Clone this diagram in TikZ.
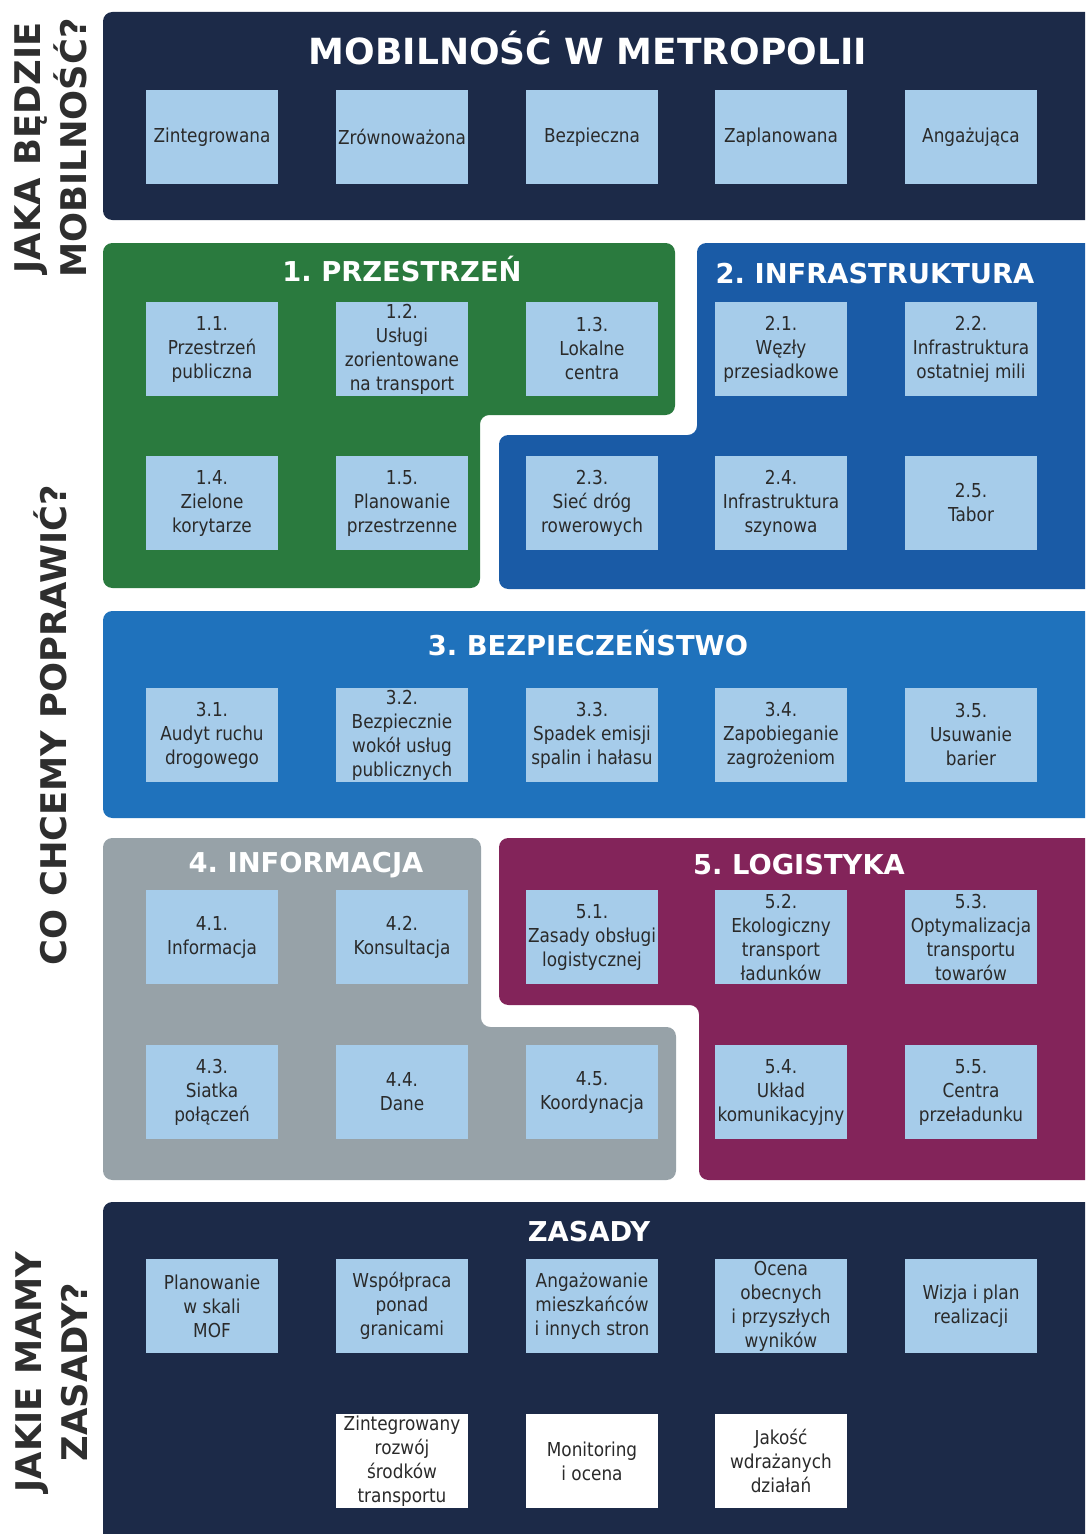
\documentclass[tikz,border=0pt]{standalone}
\usepackage{fontspec}
\setmainfont{DejaVu Sans}[FakeStretch=0.88]
\newfontfamily\headfont{DejaVu Sans}
\frenchspacing

\definecolor{mobnavy}{HTML}{1C2A48}
\definecolor{przgreen}{HTML}{2A7A3E}
\definecolor{infblue}{HTML}{1A5BA6}
\definecolor{bezblue}{HTML}{1F72BC}
\definecolor{infgrey}{HTML}{97A2A8}
\definecolor{logpurple}{HTML}{83245A}
\definecolor{tileblue}{HTML}{A6CCEA}
\definecolor{tiletext}{HTML}{2A2A2A}
\definecolor{sidetext}{HTML}{2E2E2E}

\tikzset{
  tile/.style={fill=tileblue, text=tiletext, minimum width=99.5pt, minimum height=70pt,
    inner sep=1pt, align=center, font=\fontsize{14.4}{18}\selectfont},
  whitetile/.style={tile, fill=white},
  head/.style={anchor=mid, text=white, font=\headfont\bfseries\fontsize{20.5}{24}\selectfont},
  bighead/.style={head, font=\headfont\bfseries\fontsize{27}{32}\selectfont},
  sidelabel/.style={rotate=90, align=center, text=sidetext,
    font=\headfont\bfseries\fontsize{26.5}{35}\selectfont},
  panel/.style={rounded corners=7pt}
}

\begin{document}
\begin{tikzpicture}[x=0.75pt, y=-0.75pt]

    % Page
    \clip (0,0) rectangle (1085,1534);
    \fill[white] (0,0) rectangle (1085,1534);

    % Panels
    \fill[mobnavy, panel] (103,12) rectangle (1100,220);
    \fill[przgreen, panel] (103,243) -- (675,243) -- (675,415) -- (480,415) -- (480,588) -- (103,588) -- cycle;
    \fill[infblue, panel] (697,243) -- (1100,243) -- (1100,589) -- (499,589) -- (499,435) -- (697,435) -- cycle;
    \fill[bezblue, panel] (103,611) rectangle (1100,818);
    \fill[infgrey, panel] (103,838) -- (481,838) -- (481,1027) -- (676,1027) -- (676,1180) -- (103,1180) -- cycle;
    \fill[logpurple, panel] (499,838) -- (1100,838) -- (1100,1180) -- (699,1180) -- (699,1005) -- (499,1005) -- cycle;
    \fill[mobnavy, panel] (103,1202) rectangle (1100,1550);

    % Side questions
    \node[sidelabel] (q1) at (51,148) {JAKA BĘDZIE\\MOBILNOŚĆ?};
    \node[sidelabel] (q2) at (50,725) {CO CHCEMY POPRAWIĆ?};
    \node[sidelabel] (q3) at (52,1372) {JAKIE MAMY\\ZASADY?};

    % Titles
    \node[bighead] (tm) at (588,61) {MOBILNOŚĆ W METROPOLII};
    \node[head] (t1) at (402,278) {1. PRZESTRZEŃ};
    \node[head] (t2) at (875,280) {2. INFRASTRUKTURA};
    \node[head] (t3) at (588,652) {3. BEZPIECZEŃSTWO};
    \node[head] (t4) at (306,869) {4. INFORMACJA};
    \node[head] (t5) at (799,871) {5. LOGISTYKA};
    \node[head] (tz) at (589,1238) {ZASADY};

    % Mobility
    \foreach \n/\x/\t in {m1/212/Zintegrowana, m2/402/Zrównoważona, m3/592/Bezpieczna,
                          m4/781/Zaplanowana, m5/971/Angażująca} {
        \node[tile] (\n) at (\x,137) {\t};
    }

    % 1. and 2.
    \foreach \n/\x/\t in {p11/212/{1.1.\\Przestrzeń\\publiczna},
                          p12/402/{1.2.\\Usługi\\zorientowane\\na transport},
                          p13/592/{1.3.\\Lokalne\\centra},
                          p21/781/{2.1.\\Węzły\\przesiadkowe},
                          p22/971/{2.2.\\Infrastruktura\\ostatniej mili}} {
        \node[tile] (\n) at (\x,349) {\t};
    }
    \foreach \n/\x/\t in {p14/212/{1.4.\\Zielone\\korytarze},
                          p15/402/{1.5.\\Planowanie\\przestrzenne},
                          p23/592/{2.3.\\Sieć dróg\\rowerowych},
                          p24/781/{2.4.\\Infrastruktura\\szynowa},
                          p25/971/{2.5.\\Tabor}} {
        \node[tile] (\n) at (\x,503) {\t};
    }

    % 3.
    \foreach \n/\x/\t in {b31/212/{3.1.\\Audyt ruchu\\drogowego},
                          b32/402/{3.2.\\Bezpiecznie\\wokół usług\\publicznych},
                          b33/592/{3.3.\\Spadek emisji\\spalin i hałasu},
                          b34/781/{3.4.\\Zapobieganie\\zagrożeniom},
                          b35/971/{3.5.\\Usuwanie\\barier}} {
        \node[tile] (\n) at (\x,735) {\t};
    }

    % 4. and 5.
    \foreach \n/\x/\t in {i41/212/{4.1.\\Informacja},
                          i42/402/{4.2.\\Konsultacja},
                          l51/592/{5.1.\\Zasady obsługi\\logistycznej},
                          l52/781/{5.2.\\Ekologiczny\\transport\\ładunków},
                          l53/971/{5.3.\\Optymalizacja\\transportu\\towarów}} {
        \node[tile] (\n) at (\x,937) {\t};
    }
    \foreach \n/\x/\t in {i43/212/{4.3.\\Siatka\\połączeń},
                          i44/402/{4.4.\\Dane},
                          i45/592/{4.5.\\Koordynacja},
                          l54/781/{5.4.\\Układ\\komunikacyjny},
                          l55/971/{5.5.\\Centra\\przeładunku}} {
        \node[tile] (\n) at (\x,1092) {\t};
    }

    % Zasady
    \foreach \n/\x/\t in {z1/212/{Planowanie\\w skali\\MOF},
                          z2/402/{Współpraca\\ponad\\granicami},
                          z3/592/{Angażowanie\\mieszkańców\\i innych stron},
                          z4/781/{Ocena\\obecnych\\i przyszłych\\wyników},
                          z5/971/{Wizja i plan\\realizacji}} {
        \node[tile] (\n) at (\x,1306) {\t};
    }
    \foreach \n/\x/\t in {z6/402/{Zintegrowany\\rozwój\\środków\\transportu},
                          z7/592/{Monitoring\\i ocena},
                          z8/781/{Jakość\\wdrażanych\\działań}} {
        \node[whitetile] (\n) at (\x,1461) {\t};
    }

\end{tikzpicture}
\end{document}
